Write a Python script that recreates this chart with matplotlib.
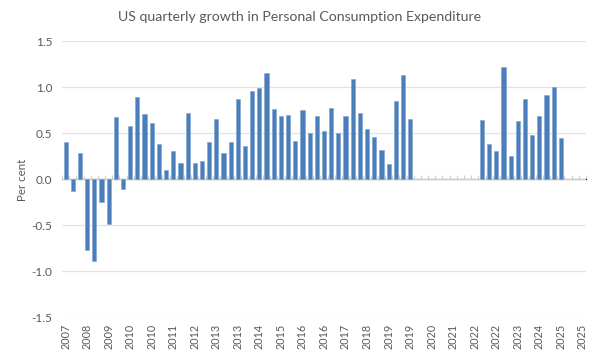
import numpy as np
import matplotlib.pyplot as plt

# -----------------------------
# DATA
# -----------------------------
# quarterly growth, per cent; None = no bar (2020-2022Q1 gap, after 2025Q1)
growth = [0.40, -0.13, 0.28, -0.77, -0.89, -0.25, -0.49, 0.67, -0.11, 0.58,
          0.89, 0.71, 0.61, 0.38, 0.10, 0.30, 0.17, 0.72, 0.17, 0.20,
          0.40, 0.65, 0.28, 0.40, 0.87, 0.36, 0.96, 0.99, 1.15, 0.76,
          0.68, 0.70, 0.41, 0.75, 0.50, 0.69, 0.52, 0.77, 0.50, 0.68,
          1.09, 0.72, 0.54, 0.46, 0.31, 0.16, 0.85, 1.13, 0.65,
          None, None, None, None, None, None, None, None, None,
          0.64, 0.38, 0.30, 1.22, 0.245, 0.635, 0.865, 0.48, 0.69, 0.91,
          0.995, 0.45,
          None, None, None]

# every third category is labelled
tick_labels = ["2007", "2008", "2009", "2010", "2010", "2011", "2012", "2013",
               "2013", "2014", "2015", "2016", "2016", "2017", "2018", "2019",
               "2019", "2020", "2021", "2022", "2022", "2023", "2024", "2025",
               "2025"]
yticks = [-1.5, -1.0, -0.5, 0.0, 0.5, 1.0, 1.5]

# -----------------------------
# PLOT
# -----------------------------
plt.rcParams['font.family'] = ['Lato', 'DejaVu Sans']
txt = '#595959'

n = len(growth)
x = np.arange(n)
vals = np.array([np.nan if v is None else v for v in growth])

fig = plt.figure(figsize=(6, 3.6), dpi=100)
ax = fig.add_axes([62/600, 1 - 317/360, 524/600, 276/360])

ax.bar(x, vals, width=0.58, color='#4A7EBB', edgecolor='#7FA3D1',
       linewidth=0.4, zorder=3)

ax.set_xlim(-0.5, n - 0.5)
ax.set_ylim(-1.5, 1.5)
ax.set_yticks(yticks)
ax.set_yticklabels([f"{t:.1f}" for t in yticks])
ax.yaxis.grid(True, color='#E3E3E3', linewidth=0.9, zorder=0)
ax.tick_params(axis='y', length=0, labelsize=8.5, labelcolor=txt, pad=7)

ax.set_xticks(x[::3])
ax.set_xticklabels(tick_labels, rotation=90)
ax.tick_params(axis='x', length=0, labelsize=7.8, labelcolor=txt, pad=5)

for s in ax.spines.values():
    s.set_visible(False)

# category axis drawn at zero with tick marks between categories
ax.axhline(0, color='#D0D0D0', linewidth=0.9, zorder=2)
zero_ax = ax.secondary_xaxis(0.5)
zero_ax.set_xticks(np.arange(n + 1) - 0.5)
zero_ax.set_xticklabels([])
zero_ax.tick_params(length=3, color='#D0D0D0', width=0.8)
zero_ax.spines['bottom'].set_visible(False)

fig.text(22/600, 1 - 180/360, "Per cent", rotation=90, ha='center',
         va='center', fontsize=8.3, color=txt)
fig.suptitle("US quarterly growth in Personal Consumption Expenditure",
             y=1 - 17/360, va='center', fontsize=10.2, color=txt)

plt.savefig("out.png", dpi=100)
